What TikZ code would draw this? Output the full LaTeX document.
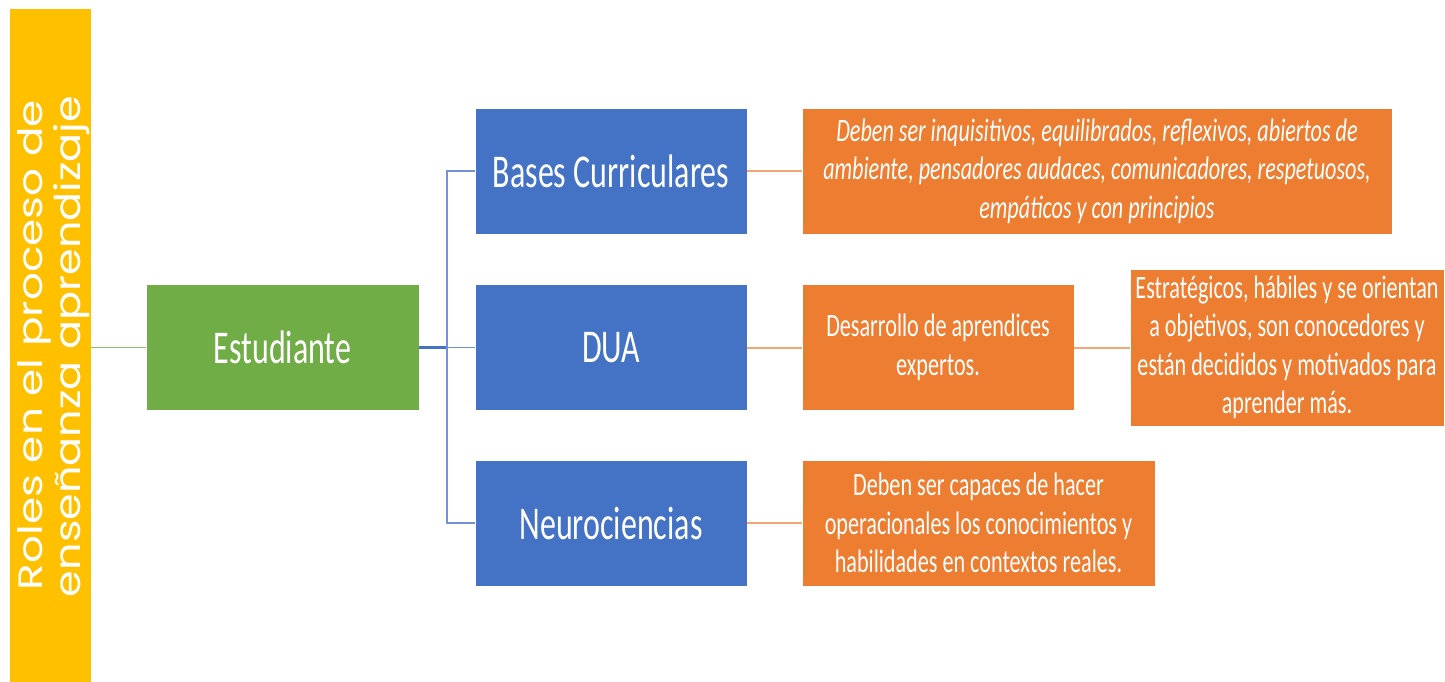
\documentclass[tikz,border=0pt]{standalone}
\usepackage{fontspec}
\setmainfont{Carlito}[FakeStretch=0.68]
\newfontfamily\gothic{Poppins}
\definecolor{yellowc}{HTML}{FFC000}
\definecolor{greenc}{HTML}{70AD47}
\definecolor{bluec}{HTML}{4472C4}
\definecolor{orangec}{HTML}{ED7D31}
\definecolor{greenl}{HTML}{8CC068}
\definecolor{bluel}{HTML}{6F93D6}
\definecolor{orangel}{HTML}{F4A676}
\begin{document}
\begin{tikzpicture}[x=1pt,y=-1pt,
  box/.style={draw=white, line width=0.6pt, text=white, inner sep=0pt, align=center},
  bigtext/.style={font=\fontsize{47}{56}\selectfont},
  smalltext/.style={font=\fontsize{32.6}{38.5}\selectfont},
  greenbox/.style={box, fill=greenc, bigtext},
  bluebox/.style={box, fill=bluec, bigtext, minimum width=272pt, minimum height=126pt},
  orangebox/.style={box, fill=orangec, smalltext},
  greenline/.style={draw=greenl, line width=1.8pt},
  blueline/.style={draw=bluel, line width=1.5pt},
  bluethick/.style={draw=bluec, line width=3pt},
  orangeline/.style={draw=orangel, line width=2pt},
  rottext/.style={rotate=90, anchor=base, inner sep=0pt, text=white}
]
\useasboundingbox (0,0) rectangle (1445,681);
\fill[white] (0,0) rectangle (1445,681);

% yellow bar
\node[fill=yellowc, inner sep=0pt, minimum width=81pt, minimum height=673pt] (bar) at (50.5,345.5) {};
\node[rottext] (t1) at (42,345) {\resizebox{490pt}{25pt}{\gothic Roles en el proceso de}};
\node[rottext] (t2) at (80,346.5) {\resizebox{501pt}{27pt}{\gothic enseñanza aprendizaje}};

% main boxes
\node[greenbox, minimum width=273pt, minimum height=126pt] (est) at (282.5,347.5) {Estudiante};
\node[bluebox] (bc) at (611,171) {Bases Curriculares};
\node[bluebox] (dua) at (611,347.5) {DUA};
\node[bluebox] (neu) at (611,523) {Neurociencias};

% orange boxes
\node[orangebox, minimum width=590pt, minimum height=126pt] (o1) at (1097,171)
  {\itshape Deben ser inquisitivos, equilibrados, reflexivos, abiertos de\\
   \itshape ambiente, pensadores audaces, comunicadores, respetuosos,\\
   \itshape empáticos y con principios};
\node[orangebox, minimum width=272pt, minimum height=126pt] (o2) at (938,347.5)
  {Desarrollo de aprendices\\expertos.};
\node[orangebox, minimum width=314pt, minimum height=157pt] (o3) at (1287,347.5)
  {Estratégicos, hábiles y se orientan\\a objetivos, son conocedores y\\están decididos y motivados para\\aprender más.};
\node[orangebox, minimum width=353pt, minimum height=126pt] (o4) at (978.5,523)
  {Deben ser capaces de hacer\\operacionales los conocimientos y\\habilidades en contextos reales.};

% connectors
\draw[greenline] (bar.east |- est.west) -- (est.west);
\coordinate (j) at (447,347.5);
\draw[bluethick] (est.east) -- (j);
\draw[blueline] (j) |- (bc.west);
\draw[blueline] (j) |- (neu.west);
\draw[blueline] (j) -- (dua.west);
\draw[orangeline] (bc.east) -- (o1.west);
\draw[orangeline] (dua.east) -- (o2.west);
\draw[orangeline] (neu.east) -- (o4.west);
\draw[orangeline] (o2.east) -- (o3.west);
\end{tikzpicture}
\end{document}
